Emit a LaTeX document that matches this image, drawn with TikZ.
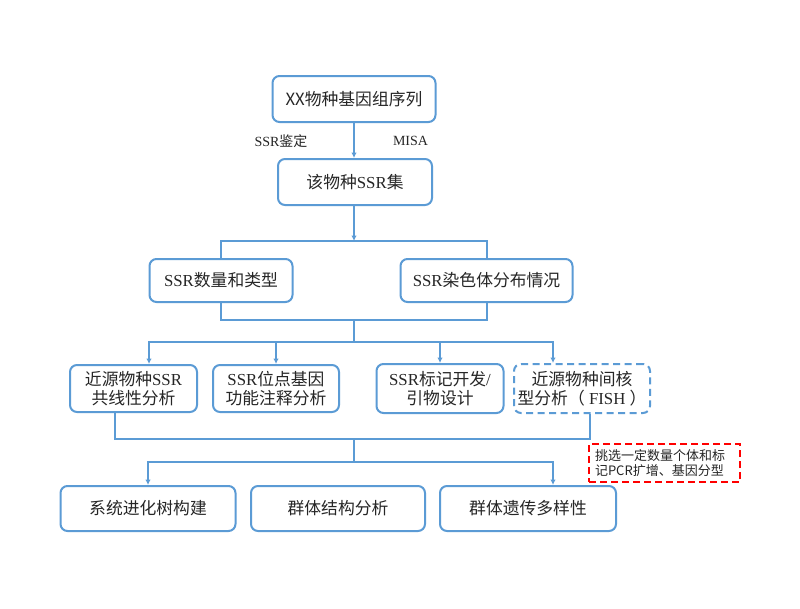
\documentclass[tikz,border=0pt]{standalone}
\usepackage{fontspec}
\setmainfont{Liberation Serif}
\newfontfamily\cjk{Noto Sans CJK SC}
\usetikzlibrary{calc,arrows.meta}
\newcommand\zh[1]{{\cjk #1}}
\definecolor{lineblue}{HTML}{5B9BD5}
\definecolor{txt}{HTML}{262626}
\definecolor{redline}{HTML}{FF0000}
\begin{document}
\begin{tikzpicture}[x=1pt,y=-1pt,
  box/.style={draw=lineblue, line width=2pt, rounded corners=7pt, align=center,
    font=\fontsize{16.8}{19}\selectfont, text=txt, inner sep=0pt},
  dbox/.style={box, dash pattern=on 7pt off 4.5pt},
  note/.style={draw=redline, line width=2pt, dash pattern=on 7pt off 4pt,
    font=\fontsize{13}{15.5}\selectfont, text=txt, align=left, inner xsep=6pt,
    inner ysep=0pt, text width=139pt, minimum height=38pt},
  lbl/.style={font=\fontsize{14}{16}\selectfont, text=txt, inner sep=0pt},
  conn/.style={draw=lineblue, line width=2pt},
  arr/.style={-{Latex[length=5.5pt,width=5.5pt]}}]
\useasboundingbox (0,0) rectangle (800,608);
\fill[white] (0,0) rectangle (800,608);

\node[box, minimum width=163pt, minimum height=46pt] (top) at (354,99) {\zh{XX物种基因组序列}};
\node[box, minimum width=154pt, minimum height=46pt] (set) at (355,182) {\zh{该物种}SSR\zh{集}};
\node[lbl] (l1) at (281,141) {SSR\zh{鉴定}};
\node[lbl] (l2) at (410.5,141) {MISA};

\node[box, minimum width=143pt, minimum height=43pt] (r2a) at (221,280.5) {SSR\zh{数量和类型}};
\node[box, minimum width=172pt, minimum height=43pt] (r2b) at (486.5,280.5) {SSR\zh{染色体分布情况}};

\node[box, minimum width=127pt, minimum height=47pt] (r3a) at (133.5,388.5) {\zh{近源物种}SSR\\\zh{共线性分析}};
\node[box, minimum width=126pt, minimum height=47pt] (r3b) at (276,388.5) {SSR\zh{位点基因}\\\zh{功能注释分析}};
\node[box, minimum width=127pt, minimum height=49pt] (r3c) at (440,388.5) {SSR\zh{标记开发}/\\\zh{引物设计}};
\node[dbox, minimum width=136pt, minimum height=49pt] (r3d) at (582,388.5) {\zh{近源物种间核}\\\zh{型分析（} FISH \zh{）}};

\node[note] (red) at (664.5,463) {\zh{挑选一定数量个体和标\\记PCR扩增、基因分型}};

\node[box, minimum width=175pt, minimum height=45pt] (A) at (148,508.5) {\zh{系统进化树构建}};
\node[box, minimum width=174pt, minimum height=45pt] (B) at (338,508.5) {\zh{群体结构分析}};
\node[box, minimum width=176pt, minimum height=45pt] (C) at (528,508.5) {\zh{群体遗传多样性}};

% connectors
\draw[conn,arr] (top.south) -- (top.south |- set.north);
\coordinate (b1) at (354,241);
\draw[conn,arr] (set.south -| b1) -- (b1);
\draw[conn] (r2a.north) |- (b1) -| (r2b.north);

\coordinate (b2) at (354,320);
\coordinate (b3) at (354,342);
\draw[conn] (r2a.south) |- (b2) -| (r2b.south);
\draw[conn] (b2) -- (b3);
\draw[conn,arr] (b3) -| ($(r3a.north)+(15.5,0)$);
\draw[conn,arr] (b3) -| ($(r3d.north)+(-29,0)$);
\draw[conn,arr] (b3 -| r3b.north) -- (r3b.north);
\draw[conn,arr] (b3 -| r3c.north) -- (r3c.north);

\coordinate (b4) at (354,439);
\coordinate (b5) at (354,462);
\draw[conn] ($(r3a.south)+(-18.5,0)$) |- (b4) -| ($(r3d.south)+(8,0)$);
\draw[conn] (b4) -- (b5);
\draw[conn,arr] (b5) -| (A.north);
\draw[conn,arr] (b5) -| ($(C.north)+(25,0)$);
\end{tikzpicture}
\end{document}
